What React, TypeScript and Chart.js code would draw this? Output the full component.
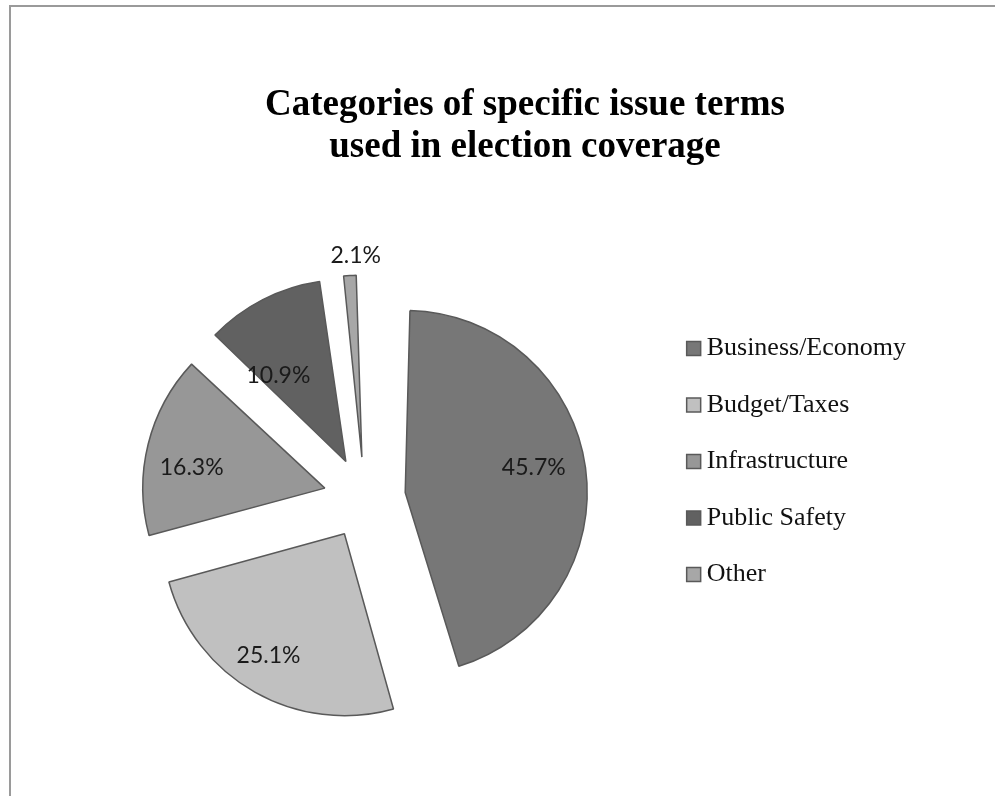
import React, { useEffect, useRef } from 'react';
import { Chart, registerables } from 'chart.js';

Chart.register(...registerables);

// ---- data ----
const categories = ['Business/Economy', 'Budget/Taxes', 'Infrastructure', 'Public Safety', 'Other'];
const shares = [45.7, 25.1, 16.3, 10.9, 2.1];
const titleLines = ['Categories of specific issue terms', 'used in election coverage'];

// ---- style ----
const sliceColors = ['#777777', '#c0c0c0', '#979797', '#616161', '#a7a7a7'];
// label placement inside each slice: radial fraction of radius, angular fraction of the slice
const labelDistance = [0.72, 0.79, 0.74, 0.6, 1.11];
const labelAngleFrac = [0.48, 0.526, 0.41, 0.22, 0.77];
const EXPLODE = 41;
const PIE_RADIUS = 182;

// keeps every exploded slice at the same radius (Chart.js enlarges offset arcs)
const explodeFix = {
  id: 'explodeFix',
  afterDatasetUpdate(chart: any, args: any) {
    for (const arc of args.meta.data) {
      const off = ((arc.options && arc.options.offset) || 0) / 4;
      const fix = 1 - Math.sin(Math.min(Math.PI, arc.circumference || 0));
      arc.outerRadius = arc.outerRadius - off * fix;
    }
  },
};

// moves the plot area horizontally so the pie sits left of the title centre
const pieShift = {
  id: 'pieShift',
  afterLayout(chart: any, _args: any, opts: any) {
    const a = chart.chartArea;
    a.left += opts.dx;
    a.right += opts.dx;
  },
};

const sliceLabels = {
  id: 'sliceLabels',
  afterDatasetsDraw(chart: any) {
    const meta = chart.getDatasetMeta(0);
    const ctx = chart.ctx;
    const R = meta.controller.outerRadius;
    ctx.save();
    ctx.font = '23px Lato, "Open Sans", sans-serif';
    ctx.fillStyle = '#1a1a1a';
    ctx.textAlign = 'center';
    ctx.textBaseline = 'middle';
    meta.data.forEach((arc: any, i: number) => {
      const mid = (arc.startAngle + arc.endAngle) / 2;
      const ang = arc.startAngle + (arc.endAngle - arc.startAngle) * labelAngleFrac[i];
      const off = ((arc.options && arc.options.offset) || 0) / 4;
      const apexX = arc.x + Math.cos(mid) * off;
      const apexY = arc.y + Math.sin(mid) * off;
      const d = labelDistance[i] * R;
      ctx.fillText(shares[i].toFixed(1) + '%', apexX + Math.cos(ang) * d, apexY + Math.sin(ang) * d);
    });
    ctx.restore();
  },
};

export default function App() {
  const ref = useRef<HTMLCanvasElement>(null);
  useEffect(() => {
    const chart = new Chart(ref.current as HTMLCanvasElement, {
      type: 'pie',
      data: {
        labels: categories,
        datasets: [
          {
            data: shares,
            backgroundColor: sliceColors,
            borderColor: '#595959',
            borderWidth: 1.5,
            offset: EXPLODE * 4,
            radius: PIE_RADIUS,
          } as any,
        ],
      },
      options: {
        responsive: false,
        animation: false,
        events: [],
        layout: { padding: { left: 123, right: 79, top: 0, bottom: 105 } },
        plugins: {
          tooltip: { enabled: false },
          title: {
            display: true,
            text: titleLines,
            color: '#000',
            font: { family: "'Liberation Serif', 'Times New Roman', serif", size: 37, weight: 'bold', lineHeight: 42 / 37 },
            padding: { top: 77, bottom: 137 },
          },
          legend: {
            position: 'right',
            align: 'start',
            fullSize: false,
            labels: {
              usePointStyle: true,
              pointStyle: 'rect',
              boxWidth: 0.01,
              boxHeight: 14,
              padding: 30.5,
              color: '#111',
              font: { family: "'Liberation Serif', 'Times New Roman', serif", size: 26 },
            },
          },
          pieShift: { dx: -34 },
        } as any,
      },
      plugins: [explodeFix, pieShift, sliceLabels],
    });
    return () => chart.destroy();
  }, []);

  return (
    <div
      style={{
        position: 'fixed',
        left: 9,
        top: 5,
        width: 986,
        height: 791,
        boxSizing: 'border-box',
        borderTop: '2px solid #9a9a9a',
        borderLeft: '2px solid #9a9a9a',
        background: '#fff',
      }}
    >
      <canvas ref={ref} width={984} height={789} style={{ display: 'block' }} />
    </div>
  );
}
